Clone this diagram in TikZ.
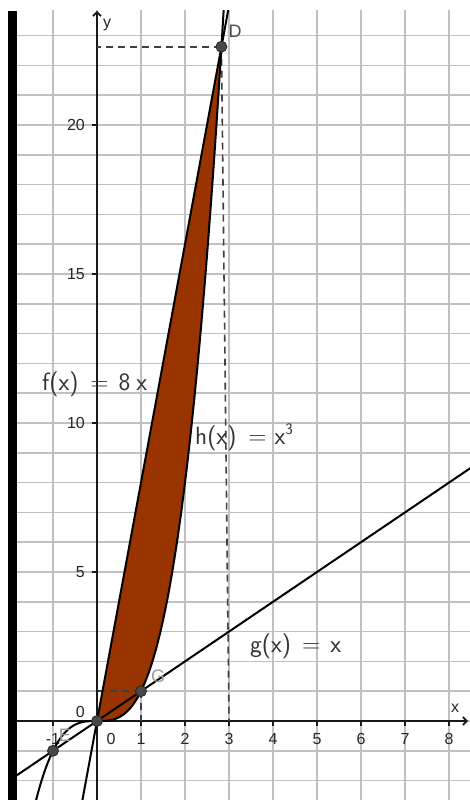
\documentclass[tikz,border=0pt]{standalone}
\usepackage{fontspec}
\setmainfont{Liberation Sans}
\usetikzlibrary{arrows.meta}
\definecolor{gridgray}{RGB}{192,192,192}
\definecolor{rust}{RGB}{153,51,0}
\definecolor{ptgray}{RGB}{72,72,72}
\begin{document}
\begin{tikzpicture}[x=44pt,y=29.8pt,
  gridline/.style={draw=gridgray,line width=1.6pt},
  axisline/.style={draw=black!90,line width=1.6pt,-{Straight Barb[length=4pt,width=8pt]}},
  curve/.style={draw=black,line width=2pt},
  helper/.style={draw=black!75,line width=1.6pt,dash pattern=on 7pt off 5pt},
  ptdot/.style={circle,fill=ptgray,draw=black!85,line width=0.8pt,inner sep=0pt,minimum size=11pt},
  ticklab/.style={font=\fontsize{16}{16}\selectfont,text=black!85,inner sep=0pt},
  funlab/.style={font=\sffamily\fontsize{25}{25}\selectfont,text=black!80,inner sep=0pt,anchor=west},
  ptlab/.style={font=\fontsize{18}{18}\selectfont,inner sep=0pt}]
\useasboundingbox (-97pt,-79pt) rectangle (373pt,721pt);
\fill[white] (-97pt,-79pt) rectangle (373pt,721pt);
% grid
\begin{scope}
  \clip (-80pt,-79pt) rectangle (373pt,710pt);
  \foreach \i in {-1,...,8} \draw[gridline] (\i,-3) -- (\i,24);
  \foreach \j in {-2,...,23} \draw[gridline] (-2,\j) -- (9,\j);
\end{scope}
\fill[black] (-89pt,-79pt) rectangle (-80pt,710pt);
% coordinates
\coordinate (O) at (0,0);
\coordinate (D) at (2.8284,22.627);
\coordinate (G) at (1,1);
\coordinate (E) at (-1,-1);
\coordinate (Dy) at (0,22.627);
\coordinate (Dx) at (3,0);
\coordinate (Gy) at (0,1);
\coordinate (Gx) at (1,0);
\coordinate (xl) at (-80pt,0);
\coordinate (xr) at (371pt,0);
\coordinate (yb) at (0,-79pt);
\coordinate (yt) at (0,710pt);
% region
\fill[rust] (O) -- (D) -- plot[domain=2.8284:0,samples=80] (\x,{\x*\x*\x}) -- cycle;
% axes
\draw[axisline] (xl) -- (xr);
\draw[axisline] (yb) -- (yt);
\foreach \i in {-1,...,8} \draw[black!90,line width=1.2pt] (\i,0) -- ++(0,-5pt);
\foreach \j in {5,10,15,20} \draw[black!90,line width=1.2pt] (0,\j) -- ++(-5pt,0);
% tick labels
\foreach \i in {1,...,8} \node[ticklab] at (\i,-18pt) {\i};
\node[ticklab] at (-44pt,-18pt) {-1};
\node[ticklab] at (14pt,-18pt) {0};
\node[ticklab,anchor=east] at (-12pt,9pt) {0};
\foreach \j in {5,10,15,20} \node[ticklab,anchor=east] at (-12pt,\j*29.8pt) {\j};
\node[ticklab] at (358pt,13pt) {x};
\node[ticklab] at (10pt,696pt) {y};
% dashed helpers
\draw[helper] (D) -- (Dy);
\draw[helper] (D) -- (Dx);
\draw[helper] (G) -- (Gy);
\draw[helper] (G) -- (Gx);
% curves
\begin{scope}
  \clip (-80pt,-79pt) rectangle (373pt,710pt);
  \draw[curve] (-2,-2) -- (9,9);
  \draw[curve] (-0.4,-3.2) -- (3,24);
  \draw[curve] plot[domain=-1.4:2.9,samples=160] (\x,{\x*\x*\x});
\end{scope}
% points
\node[ptdot] (pO) at (O) {};
\node[ptdot] (pD) at (D) {};
\node[ptdot] (pG) at (G) {};
\node[ptdot] (pE) at (E) {};
\node[ptlab,text=black!70] at (138pt,690pt) {D};
\node[ptlab,text=black!40] at (61pt,45pt) {G};
\node[ptlab,text=black!40] at (-32pt,-14pt) {E};
% function labels
\node[funlab] (lf) at (-55pt,337pt) {f(x)\hspace{12pt}=\hspace{10pt}8\hspace{6pt}x};
\node[funlab] (lh) at (98pt,284pt) {h(x)\hspace{12pt}=\hspace{8pt}x\raisebox{10pt}{\fontsize{16}{16}\selectfont 3}};
\node[funlab] (lg) at (153pt,75pt) {g(x)\hspace{11pt}=\hspace{10pt}x};
\end{tikzpicture}
\end{document}
